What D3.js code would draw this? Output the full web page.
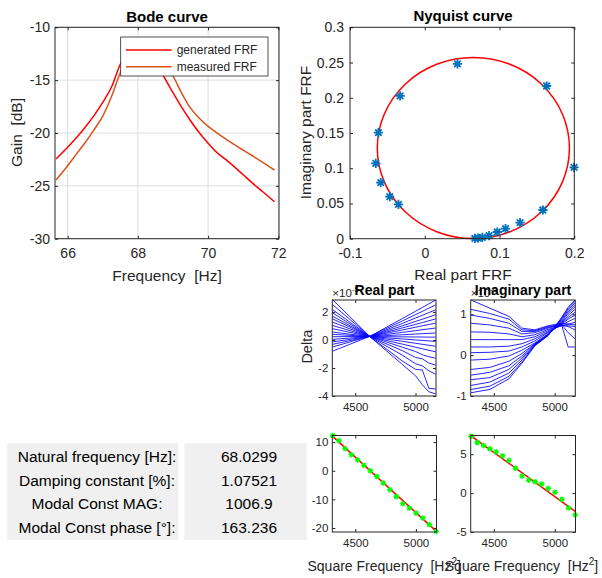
<!DOCTYPE html>
<html>
<head>
<meta charset="utf-8">
<script src="https://cdn.jsdelivr.net/npm/d3@7"></script>
<style>
  body { margin: 0; background: #fff; }
  text { font-family: "Liberation Sans", Arial, sans-serif; white-space: pre; }
</style>
</head>
<body>
<div id="figure"></div>
<script>
// ---------- data ----------

// Bode curve
var bodeFreq = [65.67, 66.0, 66.25, 66.5, 66.75, 67.0, 67.25, 67.5, 67.75, 68.0, 68.25, 68.5, 68.75,
    69.0, 69.25, 69.5, 69.75, 70.0, 70.25, 70.5, 70.75, 71.0, 71.25, 71.5, 71.75, 71.89];
var generatedGain = [-22.46, -21.35, -20.45, -19.45, -18.35, -17.1, -15.65, -13.5, -12.2, -11.8, -12.15, -13.3, -14.72,
    -16.19, -17.58, -18.84, -19.98, -20.97, -21.85, -22.5, -23.2, -23.95, -24.7, -25.4, -26.1, -26.5];
var measuredGain = [-24.45, -23.1, -22.0, -20.9, -19.7, -18.4, -16.55, -14.3, -12.7, -11.8, -11.7, -12.3, -13.4,
    -14.6, -16.25, -17.65, -18.6, -19.38, -19.98, -20.55, -21.1, -21.62, -22.13, -22.65, -23.2, -23.5];
var bodeLegend = ["generated FRF", "measured FRF"];

// Nyquist curve: measured points (real, imag) and the fitted circle
var nyqReal = [0.0437, 0.163, -0.033, -0.062, -0.0655, -0.0589, -0.0468, -0.0352, 0.1997,
    0.158, 0.1275, 0.108, 0.097, 0.086, 0.077, 0.0713, 0.067];
var nyqImag = [0.248, 0.2167, 0.2026, 0.1505, 0.107, 0.0795, 0.0596, 0.0487, 0.1013,
    0.0407, 0.0227, 0.0142, 0.0095, 0.0043, 0.002, 0.001, 0.0005];
var circleCenter = [0.065, 0.1287];
var circleRadius = 0.1285;

// square frequencies of the measured points [Hz^2]
var sqFreq = [4313, 4364, 4416, 4467, 4519, 4571, 4624, 4677, 4731, 4785, 4838, 4892, 4946, 5001, 5057, 5111, 5167];

// Delta lines, real part (x10^-5), sampled at realKnots
var realKnots = [4313, 4624, 4892, 5001, 5057, 5111, 5167];
var realDelta = [
    [2.87, 0.22, -1.76, -2.56, -3.2, -3.7, -3.85],
    [2.52, 0.22, -1.51, -2.1, -2.15, -3.45, -3.5],
    [2.16, 0.22, -1.09, -1.7, -1.85, -2.2, -2.45],
    [1.93, 0.22, -0.77, -1.25, -1.35, -1.65, -1.8],
    [1.69, 0.23, -0.52, -0.83, -1.05, -1.2, -1.3],
    [1.50, 0.23, -0.30, -0.52, -0.63, -0.74, -0.85],
    [1.27, 0.23, -0.10, -0.24, -0.31, -0.38, -0.45],
    [1.03, 0.24, 0.07, 0.0, -0.03, -0.07, -0.1],
    [0.80, 0.24, 0.22, 0.21, 0.21, 0.2, 0.2],
    [0.56, 0.24, 0.37, 0.42, 0.45, 0.47, 0.5],
    [0.40, 0.24, 0.54, 0.66, 0.73, 0.79, 0.85],
    [0.23, 0.25, 0.71, 0.91, 1.01, 1.10, 1.2],
    [0.04, 0.25, 0.86, 1.11, 1.24, 1.37, 1.5],
    [-0.14, 0.26, 1.01, 1.32, 1.48, 1.64, 1.8],
    [-0.31, 0.26, 1.18, 1.57, 1.76, 1.95, 2.15],
    [-0.50, 0.27, 1.36, 1.81, 2.04, 2.27, 2.5],
    [-0.80, 0.27, 1.53, 2.05, 2.32, 2.58, 2.85]
];

// Delta lines, imaginary part (x10^-5), sampled at imagKnots
var imagKnots = [4313, 4467, 4624, 4731, 4838, 4946, 5057, 5111, 5167];
var imagDelta = [
    [1.35, 1.15, 0.95, 0.66, 0.62, 0.72, 0.78, 0.76, 0.74],
    [1.12, 1.02, 0.88, 0.62, 0.6, 0.7, 0.75, 0.2, 0.2],
    [0.98, 0.9, 0.78, 0.58, 0.58, 0.68, 0.75, 0.55, 0.4],
    [0.78, 0.74, 0.66, 0.52, 0.55, 0.66, 0.74, 0.7, 0.62],
    [0.57, 0.56, 0.52, 0.45, 0.5, 0.63, 0.72, 0.72, 0.7],
    [0.38, 0.38, 0.38, 0.38, 0.45, 0.6, 0.72, 0.76, 0.8],
    [0.2, 0.2, 0.22, 0.28, 0.4, 0.57, 0.74, 0.82, 0.9],
    [0.06, 0.07, 0.1, 0.2, 0.35, 0.55, 0.76, 0.88, 0.98],
    [-0.12, -0.1, -0.02, 0.12, 0.3, 0.52, 0.78, 0.92, 1.05],
    [-0.35, -0.3, -0.15, 0.04, 0.28, 0.5, 0.8, 0.97, 1.12],
    [-0.49, -0.42, -0.26, -0.02, 0.27, 0.5, 0.82, 1.02, 1.18],
    [-0.6, -0.55, -0.35, -0.07, 0.26, 0.49, 0.85, 1.06, 1.23],
    [-0.74, -0.66, -0.44, -0.12, 0.25, 0.49, 0.88, 1.1, 1.28],
    [-0.84, -0.76, -0.52, -0.17, 0.24, 0.48, 0.9, 1.14, 1.32],
    [-0.92, -0.84, -0.58, -0.2, 0.23, 0.48, 0.92, 1.17, 1.35]
];

// line fits vs square frequency
var realFitPts = [12.3, 10.5, 7.7, 5.6, 3.8, 1.9, 0, -2.0, -4.3, -6.6, -9.0, -11.5, -13.0, -14.8, -16.5, -18.8, -21.2];
var realFitLine = [12.0, -21.1];   // values at first and last sqFreq
var imagFitPts = [7.3, 6.5, 6.1, 5.7, 5.3, 4.8, 4.2, 3.2, 2.2, 1.67, 1.46, 1.17, 0.6, 0.1, -0.8, -1.9, -2.8];
var imagFitLine = [7.35, -2.35];

// modal parameters table
var paramNames = ["Natural frequency [Hz]:", "Damping constant [%]:", "Modal Const MAG:", "Modal Const phase [°]:"];
var paramValues = ["68.0299", "1.07521", "1006.9", "163.236"];

// ---------- drawing ----------
var axisColor = "#262626";
var svg = d3.select("#figure").append("svg")
    .attr("width", 602)
    .attr("height", 578);

var fmt = function (d) { return String(+d.toFixed(4)); };

// draws a boxed MATLAB style axes and returns its scales
function makeAxes(r, xDom, yDom, xTicks, yTicks, o) {
    var x = d3.scaleLinear().domain(xDom).range([r.left, r.right]);
    var y = d3.scaleLinear().domain(yDom).range([r.bottom, r.top]);
    var g = svg.append("g");

    g.append("rect")
        .attr("x", r.left).attr("y", r.top)
        .attr("width", r.right - r.left).attr("height", r.bottom - r.top)
        .attr("fill", "#fff");

    if (o.grid) {
        g.selectAll(".gx").data(xTicks).enter().append("line")
            .attr("x1", d => x(d)).attr("x2", d => x(d))
            .attr("y1", r.top).attr("y2", r.bottom)
            .attr("stroke", "#dedede").attr("stroke-width", 1);
        g.selectAll(".gy").data(yTicks).enter().append("line")
            .attr("x1", r.left).attr("x2", r.right)
            .attr("y1", d => y(d)).attr("y2", d => y(d))
            .attr("stroke", "#dedede").attr("stroke-width", 1);
    }

    var bottom = g.append("g")
        .attr("transform", "translate(0," + r.bottom + ")")
        .call(d3.axisBottom(x).tickValues(xTicks).tickSizeInner(-3).tickSizeOuter(0)
            .tickPadding(o.xPad).tickFormat(fmt));
    var left = g.append("g")
        .attr("transform", "translate(" + r.left + ",0)")
        .call(d3.axisLeft(y).tickValues(yTicks).tickSizeInner(-3).tickSizeOuter(0)
            .tickPadding(o.yPad).tickFormat(fmt));
    var top = g.append("g")
        .attr("transform", "translate(0," + r.top + ")")
        .call(d3.axisTop(x).tickValues(xTicks).tickSizeInner(-3).tickSizeOuter(0).tickFormat(""));
    var right = g.append("g")
        .attr("transform", "translate(" + r.right + ",0)")
        .call(d3.axisRight(y).tickValues(yTicks).tickSizeInner(-3).tickSizeOuter(0).tickFormat(""));

    [bottom, left, top, right].forEach(function (a) {
        a.select(".domain").remove();
        a.selectAll("line").attr("stroke", axisColor);
        a.selectAll("text")
            .attr("fill", axisColor)
            .style("font-family", "'Liberation Sans', Arial, sans-serif")
            .style("font-size", o.tickSize + "px");
    });

    return { g: g, x: x, y: y, r: r };
}

function drawBox(a) {
    a.g.append("rect")
        .attr("x", a.r.left).attr("y", a.r.top)
        .attr("width", a.r.right - a.r.left).attr("height", a.r.bottom - a.r.top)
        .attr("fill", "none").attr("stroke", axisColor).attr("stroke-width", 1);
}

function label(txt, cx, cy, size, opts) {
    opts = opts || {};
    var t = svg.append("text")
        .attr("x", 0).attr("y", 0).attr("dy", "0.35em")
        .attr("text-anchor", "middle")
        .attr("transform", "translate(" + cx + "," + cy + ")" + (opts.rotate ? " rotate(-90)" : ""))
        .attr("font-size", size + "px")
        .attr("font-weight", opts.bold ? "bold" : "normal")
        .attr("fill", opts.color || axisColor)
        .text(txt);
    return t;
}

// asterisk marker path
function star(s) {
    var a = s * 0.71;
    return "M" + (-s) + ",0L" + s + ",0M0," + (-s) + "L0," + s +
        "M" + (-a) + "," + (-a) + "L" + a + "," + a + "M" + (-a) + "," + a + "L" + a + "," + (-a);
}

// --- Bode curve ---
var bode = makeAxes({ left: 55, right: 279, top: 27.3, bottom: 238.7 },
    [65.64, 72.02], [-30, -10], [66, 68, 70, 72], [-30, -25, -20, -15, -10],
    { grid: true, xPad: 9, yPad: 5, tickSize: 14 });

var bodeLine = d3.line()
    .curve(d3.curveMonotoneX)
    .x(function (d, i) { return bode.x(bodeFreq[i]); })
    .y(function (d) { return bode.y(d); });

bode.g.append("path").datum(generatedGain)
    .attr("d", bodeLine).attr("fill", "none")
    .attr("stroke", "#ff0000").attr("stroke-width", 1.5);
bode.g.append("path").datum(measuredGain)
    .attr("d", bodeLine).attr("fill", "none")
    .attr("stroke", "#d95319").attr("stroke-width", 1.5);
drawBox(bode);

// legend
var leg = svg.append("g");
leg.append("rect")
    .attr("x", 120.7).attr("y", 37).attr("width", 147.3).attr("height", 39)
    .attr("fill", "#fff").attr("stroke", axisColor).attr("stroke-width", 0.8);
leg.selectAll(".ll").data(bodeLegend).enter().append("line")
    .attr("x1", 126).attr("x2", 171.7)
    .attr("y1", (d, i) => 50 + i * 16.7).attr("y2", (d, i) => 50 + i * 16.7)
    .attr("stroke", (d, i) => i === 0 ? "#ff0000" : "#d95319")
    .attr("stroke-width", 1.5);
leg.selectAll(".lt").data(bodeLegend).enter().append("text")
    .attr("x", 176.7).attr("y", (d, i) => 50 + i * 16.7).attr("dy", "0.35em")
    .attr("font-size", "12px").attr("fill", axisColor)
    .text(d => d);

label("Bode curve", 167, 16.7, 15, { bold: true, color: "#000" });
label("Frequency  [Hz]", 167, 276, 15.5);
label("Gain  [dB]", 16.7, 132.5, 15.5, { rotate: true });

// --- Nyquist curve ---
var nyq = makeAxes({ left: 350, right: 574.3, top: 27.3, bottom: 238.7 },
    [-0.1, 0.2], [0, 0.3], [-0.1, 0, 0.1, 0.2], [0, 0.05, 0.1, 0.15, 0.2, 0.25, 0.3],
    { grid: false, xPad: 9, yPad: 6, tickSize: 14 });

nyq.g.append("ellipse")
    .attr("cx", nyq.x(circleCenter[0]))
    .attr("cy", nyq.y(circleCenter[1]))
    .attr("rx", nyq.x(circleCenter[0] + circleRadius) - nyq.x(circleCenter[0]))
    .attr("ry", nyq.y(circleCenter[1]) - nyq.y(circleCenter[1] + circleRadius))
    .attr("fill", "none").attr("stroke", "#ff0000").attr("stroke-width", 1.5);

nyq.g.selectAll(".ns").data(nyqReal).enter().append("path")
    .attr("d", star(4.6))
    .attr("transform", (d, i) => "translate(" + nyq.x(d) + "," + nyq.y(nyqImag[i]) + ")")
    .attr("fill", "none").attr("stroke", "#0072bd").attr("stroke-width", 1.8);
drawBox(nyq);

label("Nyquist curve", 463, 15.7, 15, { bold: true, color: "#000" });
label("Real part FRF", 463, 275, 15.5);
label("Imaginary part FRF", 306, 132.5, 15.5, { rotate: true });

// --- Delta panels ---
var sqDom = [4310, 5170];

var realP = makeAxes({ left: 332.3, right: 436, top: 300, bottom: 396 },
    sqDom, [-4, 2.85], [4500, 5000], [-4, -2, 0, 2],
    { grid: false, xPad: 7, yPad: 4, tickSize: 11.5 });
var realLine = d3.line()
    .x(function (d, i) { return realP.x(realKnots[i]); })
    .y(function (d) { return realP.y(d); });
realP.g.selectAll(".rl").data(realDelta).enter().append("path")
    .attr("d", realLine).attr("fill", "none")
    .attr("stroke", "#0000ff").attr("stroke-opacity", 0.85).attr("stroke-width", 1);
drawBox(realP);

var imagP = makeAxes({ left: 470.7, right: 575.3, top: 300, bottom: 396 },
    sqDom, [-1, 1.35], [4500, 5000], [-1, 0, 1],
    { grid: false, xPad: 7, yPad: 4, tickSize: 11.5 });
var imagLine = d3.line()
    .x(function (d, i) { return imagP.x(imagKnots[i]); })
    .y(function (d) { return imagP.y(d); });
imagP.g.selectAll(".il").data(imagDelta).enter().append("path")
    .attr("d", imagLine).attr("fill", "none")
    .attr("stroke", "#0000ff").attr("stroke-opacity", 0.85).attr("stroke-width", 1);
drawBox(imagP);

// exponent labels
[realP, imagP].forEach(function (p) {
    var t = svg.append("text")
        .attr("x", p.r.left).attr("y", 297)
        .attr("font-size", "11.5px").attr("fill", axisColor);
    t.append("tspan").text("×10");
    t.append("tspan").attr("dy", -5).attr("font-size", "8px").text("-5");
});

label("Real part", 384.5, 290, 14, { bold: true, color: "#000" });
label("Imaginary part", 523, 290, 14, { bold: true, color: "#000" });
label("Delta", 306.5, 346.7, 14.5, { rotate: true });

// --- fit panels ---
var realF = makeAxes({ left: 332.3, right: 436.5, top: 435.5, bottom: 532 },
    sqDom, [-21.4, 12.3], [4500, 5000], [-20, -10, 0, 10],
    { grid: false, xPad: 7, yPad: 4, tickSize: 11.5 });
var imagF = makeAxes({ left: 470.7, right: 575.5, top: 435.5, bottom: 532 },
    sqDom, [-5, 7.4], [4500, 5000], [-5, 0, 5],
    { grid: false, xPad: 7, yPad: 4, tickSize: 11.5 });

[[realF, realFitPts, realFitLine], [imagF, imagFitPts, imagFitLine]].forEach(function (p) {
    var a = p[0];
    a.g.append("line")
        .attr("x1", a.x(sqFreq[0])).attr("y1", a.y(p[2][0]))
        .attr("x2", a.x(sqFreq[sqFreq.length - 1])).attr("y2", a.y(p[2][1]))
        .attr("stroke", "#ff0000").attr("stroke-width", 1.5);
    a.g.selectAll(".gs").data(p[1]).enter().append("path")
        .attr("d", star(2.8))
        .attr("transform", (d, i) => "translate(" + a.x(sqFreq[i]) + "," + a.y(d) + ")")
        .attr("fill", "none").attr("stroke", "#00ff00").attr("stroke-width", 1.3);
    drawBox(a);
});

[[384.2, realF], [521.5, imagF]].forEach(function (p) {
    var t = svg.append("text")
        .attr("x", p[0]).attr("y", 565.7).attr("dy", "0.35em")
        .attr("text-anchor", "middle")
        .attr("font-size", "14px").attr("fill", axisColor);
    t.append("tspan").text("Square Frequency  [Hz");
    t.append("tspan").attr("dy", -6).attr("font-size", "10px").text("2");
    t.append("tspan").attr("dy", 6).text("]");
});

// --- parameter table ---
svg.append("rect").attr("x", 7.3).attr("y", 443.3).attr("width", 171).attr("height", 96.7).attr("fill", "#f0f0f0");
svg.append("rect").attr("x", 184.3).attr("y", 443.3).attr("width", 122.4).attr("height", 96.7).attr("fill", "#f0f0f0");

var rowY = d3.scalePoint().domain(d3.range(paramNames.length)).range([456.7, 527.3]);
svg.selectAll(".pn").data(paramNames).enter().append("text")
    .attr("x", 97).attr("y", (d, i) => rowY(i)).attr("dy", "0.35em")
    .attr("text-anchor", "middle").attr("font-size", "15.5px").attr("fill", "#000")
    .text(d => d);
svg.selectAll(".pv").data(paramValues).enter().append("text")
    .attr("x", 249).attr("y", (d, i) => rowY(i)).attr("dy", "0.35em")
    .attr("text-anchor", "middle").attr("font-size", "15.5px").attr("fill", "#000")
    .text(d => d);
</script>
</body>
</html>
